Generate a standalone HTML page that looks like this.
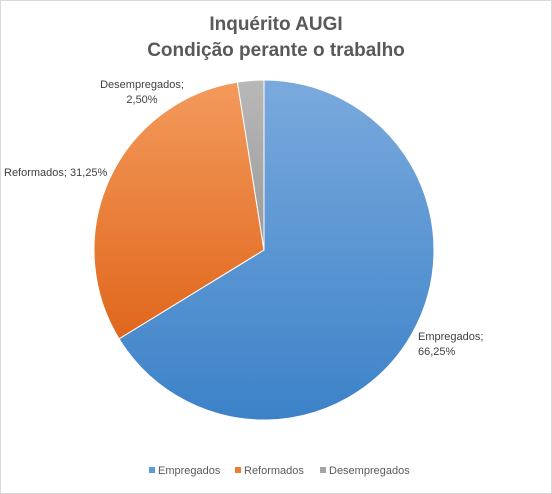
<!DOCTYPE html>
<html><head><meta charset="utf-8"><style>
body{margin:0;background:#fff;}
svg{display:block;font-family:"Liberation Sans",sans-serif;}
</style></head><body>
<svg id="chart" width="552" height="494" viewBox="0 0 552 494">
<defs>
<linearGradient id="gb" x1="0" y1="0" x2="0" y2="1"><stop offset="0" stop-color="#7aa9dd"/><stop offset="1" stop-color="#3c82c8"/></linearGradient>
<linearGradient id="go" x1="0" y1="0" x2="0" y2="1"><stop offset="0" stop-color="#f39a5c"/><stop offset="1" stop-color="#e0661c"/></linearGradient>
<linearGradient id="gg" x1="0" y1="0" x2="0" y2="1"><stop offset="0" stop-color="#b8b8b8"/><stop offset="1" stop-color="#9a9a9a"/></linearGradient>
</defs>
<rect x="0.5" y="0.5" width="551" height="493" fill="#fff" stroke="#d9d9d9"/>
<text x="276" y="30" text-anchor="middle" font-size="19" font-weight="bold" fill="#595959">Inquérito AUGI</text>
<text x="276" y="56" text-anchor="middle" font-size="19" font-weight="bold" fill="#595959">Condição perante o trabalho</text>
<g id="slices"></g>
<g id="labels" font-size="11" fill="#404040"></g>
<g id="legend" font-size="11" fill="#595959">
<rect x="149" y="467" width="6" height="6" fill="#5b9bd5"/>
<text x="158" y="474">Empregados</text>
<rect x="235" y="467" width="6" height="6" fill="#ed7d31"/>
<text x="244" y="474">Reformados</text>
<rect x="320" y="467" width="6" height="6" fill="#a5a5a5"/>
<text x="329" y="474">Desempregados</text>
</g>
</svg>
<script>
const categories=["Empregados","Reformados","Desempregados"];
const values=[66.25,31.25,2.50];
const fills=["url(#gb)","url(#go)","url(#gg)"];
const cx=264,cy=250,r=170;
const total=values.reduce((a,b)=>a+b,0);
const NS="http://www.w3.org/2000/svg";
const g=document.getElementById('slices');
const lg=document.getElementById('labels');
let a0=0;
const pt=(a,rr)=>[cx+rr*Math.sin(a),cy-rr*Math.cos(a)];
const labelPos=[[418,340,"start"],[70,176,"middle"],[142,88,"middle"]];
values.forEach((v,i)=>{
  const a1=a0+v/total*2*Math.PI;
  const [x0,y0]=pt(a0,r),[x1,y1]=pt(a1,r);
  const p=document.createElementNS(NS,'path');
  p.setAttribute('d',`M${cx},${cy}L${x0},${y0}A${r},${r} 0 ${a1-a0>Math.PI?1:0} 1 ${x1},${y1}Z`);
  p.setAttribute('fill',fills[i]);p.setAttribute('stroke','#fff');p.setAttribute('stroke-width','1');
  
  
  g.appendChild(p);
  const lab=v.toFixed(2).replace('.',',')+'%';
  const [lx,ly,anc]=labelPos[i];
  const t=document.createElementNS(NS,'text');
  t.setAttribute('text-anchor',anc);
  
  
  if(i===1){t.setAttribute('x',4);t.setAttribute('y',ly);t.setAttribute('text-anchor','start');t.textContent=categories[i]+'; '+lab;}
  else{
    const s1=document.createElementNS(NS,'tspan');s1.setAttribute('x',lx);s1.setAttribute('y',ly);s1.textContent=categories[i]+';';
    const s2=document.createElementNS(NS,'tspan');s2.setAttribute('x',lx);s2.setAttribute('y',ly+15);s2.textContent=lab;
    t.appendChild(s1);t.appendChild(s2);
  }
  lg.appendChild(t);
  a0=a1;
});
</script>
</body></html>
